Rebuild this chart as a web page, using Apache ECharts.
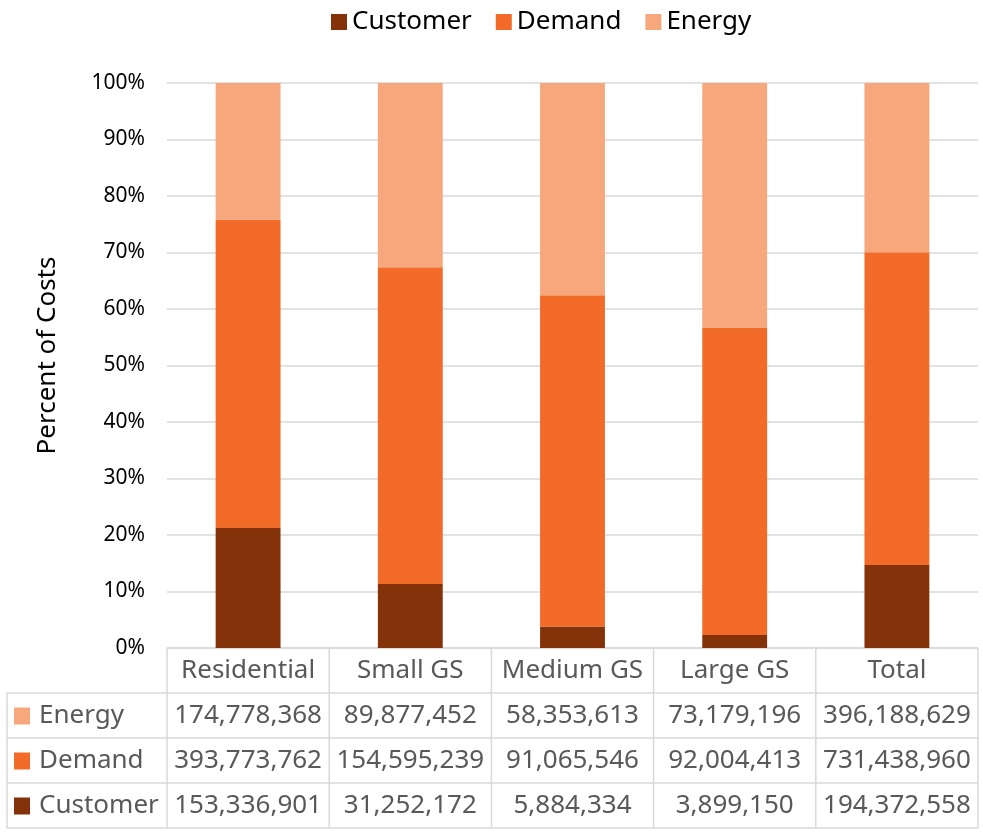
<!DOCTYPE html>
<html>
<head>
<meta charset="utf-8">
<script src="https://cdn.jsdelivr.net/npm/echarts@6/dist/echarts.min.js"></script>
<style>
  html, body { margin: 0; padding: 0; background: #fff; }
  #chart { width: 983px; height: 833px; }
</style>
</head>
<body>
<div id="chart"></div>
<script>
const categories = ['Residential', 'Small GS', 'Medium GS', 'Large GS', 'Total'];
const customer = [153336901, 31252172, 5884334, 3899150, 194372558];
const demand = [393773762, 154595239, 91065546, 92004413, 731438960];
const energy = [174778368, 89877452, 58353613, 73179196, 396188629];
const yTicks = [0, 10, 20, 30, 40, 50, 60, 70, 80, 90, 100];

const colors = { Customer: '#843209', Demand: '#F26B29', Energy: '#F6A77C' };
const font = 'Noto Sans';

const totals = categories.map((c, i) => customer[i] + demand[i] + energy[i]);
const pct = arr => arr.map((v, i) => v / totals[i] * 100);

// layout of plot + data table
const plotLeft = 167, plotRight = 978, plotTop = 83, plotBottom = 648;
const rowH = 45, firstColLeft = 7;
const colW = (plotRight - plotLeft) / categories.length;

const chart = echarts.init(document.getElementById('chart'));

// data table under the plot
const tableRows = [
  { name: 'Energy', data: energy },
  { name: 'Demand', data: demand },
  { name: 'Customer', data: customer }
];
const fmt = v => v.toLocaleString('en-US');
const graphics = [];
const lineStyle = { stroke: '#D9D9D9', lineWidth: 1.5 };
const tableBottom = plotBottom + rowH * (tableRows.length + 1);

// horizontal lines
graphics.push({ type: 'line', shape: { x1: plotLeft, y1: plotBottom, x2: plotRight, y2: plotBottom }, style: lineStyle });
for (let r = 1; r <= tableRows.length + 1; r++) {
  const y = plotBottom + r * rowH;
  graphics.push({ type: 'line', shape: { x1: firstColLeft, y1: y, x2: plotRight, y2: y }, style: lineStyle });
}
// vertical lines
graphics.push({ type: 'line', shape: { x1: firstColLeft, y1: plotBottom + rowH, x2: firstColLeft, y2: tableBottom }, style: lineStyle });
for (let c = 0; c <= categories.length; c++) {
  const x = plotLeft + c * colW;
  graphics.push({ type: 'line', shape: { x1: x, y1: plotBottom, x2: x, y2: tableBottom }, style: lineStyle });
}
// header
categories.forEach((cat, c) => {
  graphics.push({
    type: 'text',
    x: plotLeft + (c + 0.5) * colW, y: plotBottom + rowH / 2,
    style: { text: cat, fill: '#595959', font: '26px "' + font + '"', align: 'center', verticalAlign: 'middle' }
  });
});
// rows
tableRows.forEach((row, r) => {
  const yMid = plotBottom + (r + 1.5) * rowH;
  graphics.push({ type: 'rect', shape: { x: 14, y: yMid - 8, width: 16, height: 17 }, style: { fill: colors[row.name] } });
  graphics.push({
    type: 'text', x: 39, y: yMid,
    style: { text: row.name, fill: '#595959', font: '26px "' + font + '"', align: 'left', verticalAlign: 'middle' }
  });
  row.data.forEach((v, c) => {
    graphics.push({
      type: 'text',
      x: plotLeft + (c + 0.5) * colW, y: yMid,
      style: { text: fmt(v), fill: '#595959', font: '26px "' + font + '"', align: 'center', verticalAlign: 'middle' }
    });
  });
});

const makeSeries = (name, arr) => ({
  name: name,
  type: 'bar',
  stack: 'total',
  barWidth: '40%',
  itemStyle: { color: colors[name] },
  data: pct(arr)
});

chart.setOption({
  animation: false,
  textStyle: { fontFamily: font },
  legend: {
    top: 4,
    left: 326,
    itemWidth: 16,
    itemHeight: 16,
    itemGap: 24,
    icon: 'rect',
    textStyle: { fontSize: 26, color: '#000', fontFamily: font },
    data: ['Customer', 'Demand', 'Energy']
  },
  grid: {
    left: plotLeft,
    right: 983 - plotRight,
    top: plotTop,
    bottom: 833 - plotBottom,
    containLabel: false
  },
  xAxis: {
    type: 'category',
    data: categories,
    axisLine: { show: false },
    axisTick: { show: false },
    axisLabel: { show: false }
  },
  yAxis: {
    type: 'value',
    min: yTicks[0],
    max: yTicks[yTicks.length - 1],
    interval: 10,
    name: 'Percent of Costs',
    nameLocation: 'middle',
    nameGap: 106,
    nameTextStyle: { fontSize: 26, color: '#000', fontFamily: font, padding: [0, 0, 0, 20] },
    axisLabel: { formatter: '{value}%', fontSize: 21, color: '#000', margin: 22 },
    splitLine: { lineStyle: { color: '#D9D9D9', width: 1.5 } }
  },
  series: [
    makeSeries('Customer', customer),
    makeSeries('Demand', demand),
    makeSeries('Energy', energy)
  ],
  graphic: graphics
});
</script>
</body>
</html>
